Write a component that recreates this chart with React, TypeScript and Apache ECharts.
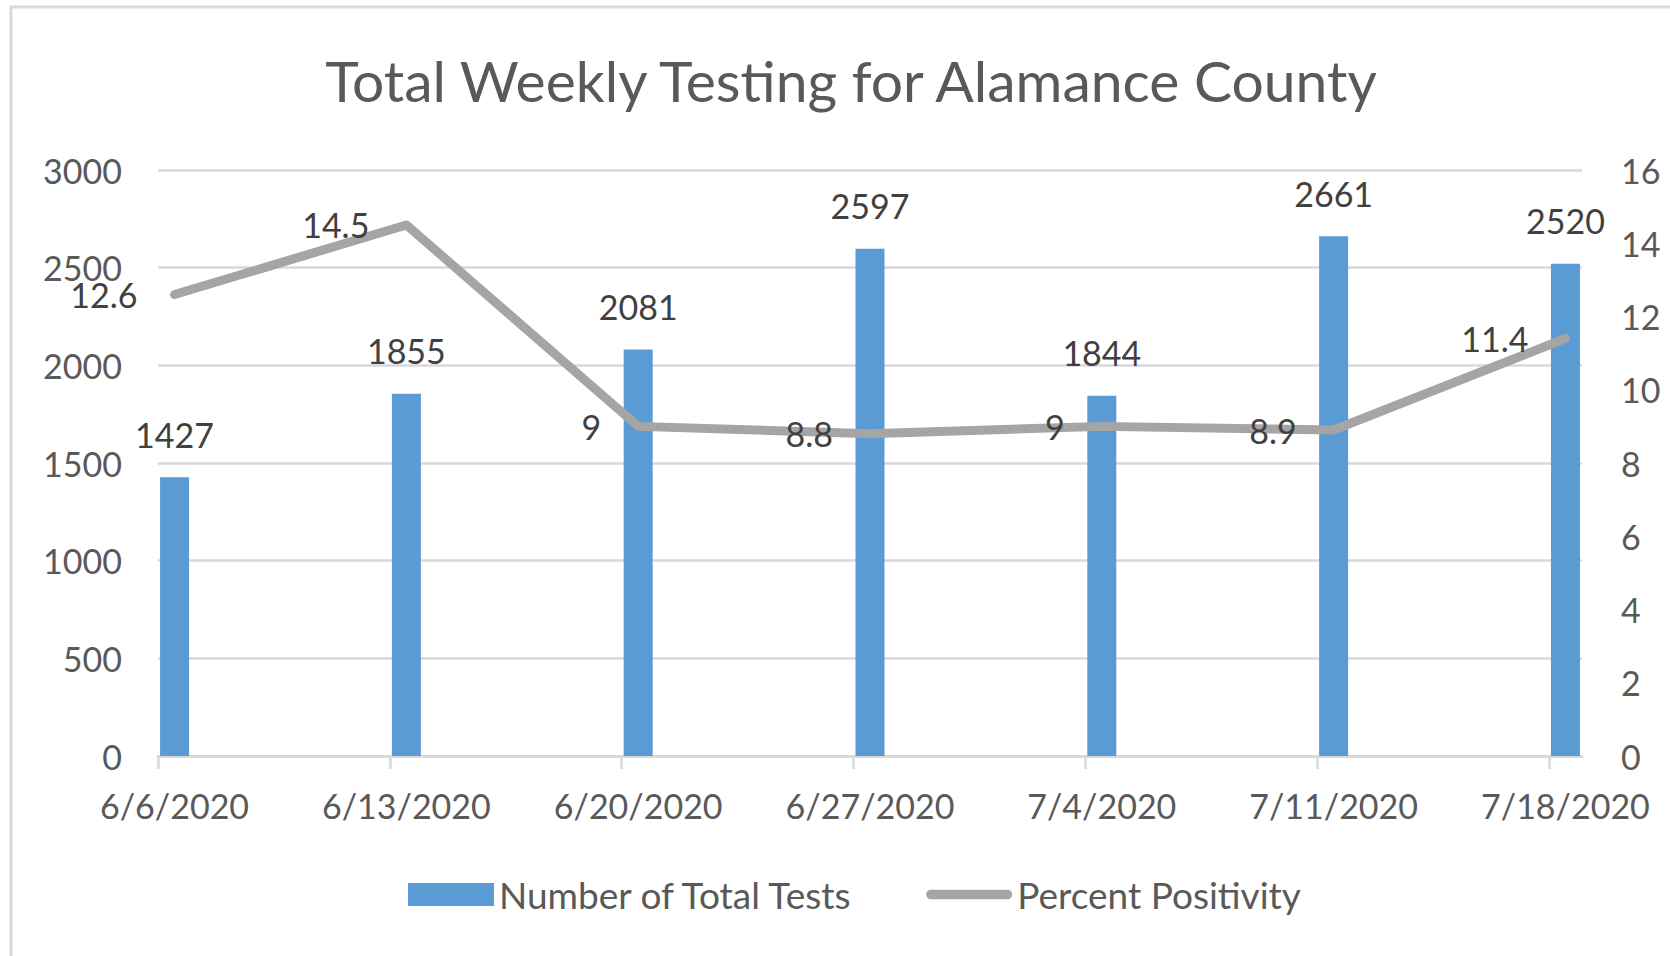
import React, { useEffect, useRef } from "react";
import * as echarts from "echarts";

const TITLE = "Total Weekly Testing for Alamance County";
const dates = ["6/6/2020", "6/13/2020", "6/20/2020", "6/27/2020", "7/4/2020", "7/11/2020", "7/18/2020"];
const totalTests = [1427, 1855, 2081, 2597, 1844, 2661, 2520];
const percentPositivity = [12.6, 14.5, 9, 8.8, 9, 8.9, 11.4];
const leftTicks = { min: 0, max: 3000, interval: 500 };
const rightTicks = { min: 0, max: 16, interval: 2 };

const FONT = "Lato";

function dayIndex(d: string): number {
  const [m, day, y] = d.split("/").map(Number);
  const [m0, d0, y0] = dates[0].split("/").map(Number);
  return Math.round((Date.UTC(y, m - 1, day) - Date.UTC(y0, m0 - 1, d0)) / 86400000);
}

export default function App() {
  const ref = useRef<HTMLDivElement>(null);
  useEffect(() => {
    document.body.style.margin = "0";
    if (!ref.current) return;
    const chart = echarts.init(ref.current, null, { renderer: "svg" });
    const days = dates.map(dayIndex);
    const lastDay = days[days.length - 1];
    const labelByDay: Record<number, string> = {};
    days.forEach((d, i) => (labelByDay[d] = dates[i]));
    const linePill =
      "path://M0,0L0.01,0M0,23L0.01,23M5,6.5H85A5,5 0 0 1 85,16.5H5A5,5 0 0 1 5,6.5Z";

    chart.setOption({
      animation: false,
      backgroundColor: "#ffffff",
      title: {
        text: TITLE,
        left: 846,
        top: 46,
        textAlign: "center",
        textStyle: { fontFamily: FONT, fontSize: 57, fontWeight: "normal", color: "#595959" },
      },
      graphic: [
        {
          type: "rect",
          silent: true,
          z: -1,
          shape: { x: 11, y: 7, width: 1700, height: 1000 },
          style: { fill: "none", stroke: "#D9D9D9", lineWidth: 3 },
        },
      ],
      legend: {
        left: 403,
        top: 871,
        itemWidth: 86,
        itemHeight: 23,
        itemGap: 72,
        textStyle: { fontFamily: FONT, fontSize: 37, color: "#595959" },
        data: [
          { name: "Number of Total Tests", icon: "rect" },
          { name: "Percent Positivity", icon: linePill },
        ],
      },
      grid: { left: 158, right: 88, top: 170, bottom: 200, containLabel: false },
      xAxis: {
        type: "value",
        min: days[0] - 0.5,
        max: lastDay + 0.5,
        splitLine: { show: false },
        axisLine: { show: true, lineStyle: { color: "#D9D9D9", width: 3 } },
        axisTick: {
          show: true,
          length: 13,
          customValues: days.map((d) => d - 0.5),
          lineStyle: { color: "#D9D9D9", width: 2.5 },
        },
        axisLabel: {
          customValues: days,
          formatter: (v: number) => labelByDay[Math.round(v)] ?? "",
          margin: 32,
          fontFamily: FONT,
          fontSize: 34,
          color: "#595959",
        },
      },
      yAxis: [
        {
          type: "value",
          min: leftTicks.min,
          max: leftTicks.max,
          interval: leftTicks.interval,
          axisLine: { show: false },
          axisTick: { show: false },
          splitLine: { show: true, lineStyle: { color: "#D9D9D9", width: 2.5 } },
          axisLabel: {
            margin: 36,
            fontFamily: FONT,
            fontSize: 34,
            color: "#595959",
            formatter: (v: number) => String(v),
          },
        },
        {
          type: "value",
          min: rightTicks.min,
          max: rightTicks.max,
          interval: rightTicks.interval,
          position: "right",
          axisLine: { show: false },
          axisTick: { show: false },
          splitLine: { show: false },
          axisLabel: {
            margin: 39,
            fontFamily: FONT,
            fontSize: 34,
            color: "#595959",
            formatter: (v: number) => String(v),
          },
        },
      ],
      series: [
        {
          name: "Number of Total Tests",
          type: "bar",
          barWidth: 29,
          data: days.map((d, i) => [d, totalTests[i]]),
          itemStyle: { color: "#5B9BD5" },
          label: {
            show: true,
            position: "top",
            distance: 26,
            fontFamily: FONT,
            fontSize: 34,
            color: "#404040",
            formatter: (p: any) => String(p.value[1]),
          },
          z: 2,
        },
        {
          name: "Percent Positivity",
          type: "line",
          yAxisIndex: 1,
          data: days.map((d, i) => [d, percentPositivity[i]]),
          symbol: "circle",
          symbolSize: 2,
          showSymbol: true,
          itemStyle: { color: "#A5A5A5" },
          lineStyle: { color: "#A5A5A5", width: 9, cap: "round", join: "round" },
          label: {
            show: true,
            position: "left",
            distance: 36,
            fontFamily: FONT,
            fontSize: 34,
            color: "#404040",
            formatter: (p: any) => String(p.value[1]),
          },
          z: 3,
        },
      ],
    });
    return () => chart.dispose();
  }, []);
  return <div ref={ref} style={{ width: 1670, height: 956 }} />;
}
